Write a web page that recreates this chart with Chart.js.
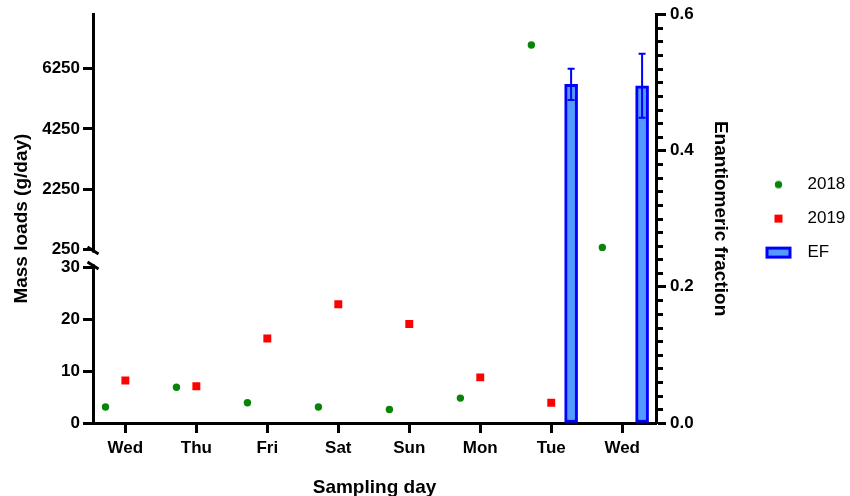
<!DOCTYPE html>
<html>
<head>
<meta charset="utf-8">
<script src="https://cdn.jsdelivr.net/npm/chart.js@4.4.0/dist/chart.umd.min.js"></script>
<style>
  body { margin: 0; background: #fff; }
</style>
</head>
<body>
<canvas id="chart" width="850" height="496"></canvas>
<script>
const days = ['Wed', 'Thu', 'Fri', 'Sat', 'Sun', 'Mon', 'Tue', 'Wed'];
const mass2018 = [3.1, 6.9, 3.9, 3.1, 2.6, 4.8, 7030, 320];
const mass2019 = [8.2, 7.1, 16.3, 22.9, 19.1, 8.8, 3.9, null];
const efValues = [null, null, null, null, null, null, 0.497, 0.495];
const efErrors = [null, null, null, null, null, null, 0.023, 0.047];
const lowTicks = [0, 10, 20, 30];
const highTicks = [250, 2250, 4250, 6250];
const efTicks = [0, 0.2, 0.4, 0.6];
const breakAt = 30;

const FONT = "'Liberation Sans', Arial, sans-serif";
const GREEN = '#088508';
const RED = '#ff0000';
const BLUE = '#0000ff';
const LIGHT_BLUE = '#559bff';

// value lists -> {x, y} points, shifted inside each day
function points(values, offset, keep, errs) {
    let out = [];
    values.forEach((v, i) => {
        if (v === null || !keep(v)) return;
        let p = {x: i + offset, y: v};
        if (errs) p.err = errs[i];
        out.push(p);
    });
    return out;
}

function swatch(kind) {
    let c = document.createElement('canvas');
    c.width = 34;
    c.height = 14;
    let ctx = c.getContext('2d');
    if (kind === 'dot') {
        ctx.fillStyle = GREEN;
        ctx.beginPath();
        ctx.arc(13.5, 7, 3.7, 0, Math.PI * 2);
        ctx.fill();
    } else if (kind === 'square') {
        ctx.fillStyle = RED;
        ctx.fillRect(9.5, 3, 8, 8);
    } else {
        ctx.fillStyle = BLUE;
        ctx.fillRect(0.5, 1, 26, 12);
        ctx.fillStyle = LIGHT_BLUE;
        ctx.fillRect(3.5, 4, 20, 6);
    }
    return c;
}

const tickFont = {family: FONT, size: 17, weight: 'bold'};
const titleFont = {family: FONT, size: 19, weight: 'bold'};
const axisGrid = {drawOnChartArea: false, offset: false, tickLength: 10, tickWidth: 3, tickColor: '#000'};
const axisBorder = {color: '#000', width: 3};

const extras = {
    id: 'extras',
    afterInit(chart) {
        // legend box wide enough so its text is not clipped
        let legend = chart.legend;
        let fit = legend.fit.bind(legend);
        legend.fit = function () { fit(); this.width = 102; };
    },
    afterDatasetsDraw(chart) {
        // error bars on EF
        let ctx = chart.ctx;
        let s = chart.scales.y2;
        let ds = chart.data.datasets[3];
        chart.getDatasetMeta(3).data.forEach((bar, j) => {
            let p = ds.data[j];
            let top = s.getPixelForValue(p.y + p.err);
            let bot = s.getPixelForValue(p.y - p.err);
            ctx.save();
            ctx.strokeStyle = BLUE;
            ctx.lineWidth = 2;
            ctx.beginPath();
            ctx.moveTo(bar.x, top);
            ctx.lineTo(bar.x, bot);
            ctx.moveTo(bar.x - 3.5, top);
            ctx.lineTo(bar.x + 3.5, top);
            ctx.moveTo(bar.x - 3.5, bot);
            ctx.lineTo(bar.x + 3.5, bot);
            ctx.stroke();
            ctx.restore();
        });
    },
    afterDraw(chart) {
        let ctx = chart.ctx;
        // minor ticks on the right axis
        let s = chart.scales.y2;
        ctx.save();
        ctx.strokeStyle = '#000';
        ctx.lineWidth = 3;
        for (let k = 1; k < 30; k++) {
            if (k % 10 === 0) continue;
            let y = Math.round(s.getPixelForValue(k * 0.02)) + 0.5;
            ctx.beginPath();
            ctx.moveTo(s.left, y);
            ctx.lineTo(s.left + 7, y);
            ctx.stroke();
        }
        // axis break marks
        let hi = chart.scales.yHigh;
        let lo = chart.scales.yLow;
        let x = hi.right;
        let y1 = hi.getPixelForValue(highTicks[0]);
        let y2 = lo.getPixelForValue(lowTicks[lowTicks.length - 1]);
        ctx.fillStyle = '#fff';
        ctx.fillRect(x - 4, y1 + 3, 8, y2 - y1 - 6);
        ctx.lineWidth = 3;
        [y1 + 1, y2 - 2].forEach(yy => {
            ctx.beginPath();
            ctx.moveTo(x - 5.5, yy - 3.5);
            ctx.lineTo(x + 5.5, yy + 3.5);
            ctx.stroke();
        });
        ctx.restore();
    }
};

new Chart(document.getElementById('chart'), {
    type: 'bar',
    data: {
        datasets: [{
            type: 'scatter',
            label: '2018',
            yAxisID: 'yLow',
            data: points(mass2018, -0.28, v => v <= breakAt),
            pointStyle: 'circle',
            pointRadius: 3.7,
            pointBorderWidth: 0,
            backgroundColor: GREEN,
        }, {
            type: 'scatter',
            label: '2018',
            yAxisID: 'yHigh',
            data: points(mass2018, -0.28, v => v > breakAt),
            pointStyle: 'circle',
            pointRadius: 3.7,
            pointBorderWidth: 0,
            backgroundColor: GREEN,
        }, {
            type: 'scatter',
            label: '2019',
            yAxisID: 'yLow',
            data: points(mass2019, 0, v => v <= breakAt),
            pointStyle: 'rect',
            pointRadius: 5.6,
            pointBorderWidth: 0,
            backgroundColor: RED,
        }, {
            type: 'bar',
            label: 'EF',
            yAxisID: 'y2',
            data: points(efValues, 0.28, () => true, efErrors),
            barThickness: 13,
            backgroundColor: LIGHT_BLUE,
            borderColor: BLUE,
            borderWidth: 3,
            borderSkipped: false,
        }]
    },
    options: {
        responsive: false,
        devicePixelRatio: 1,
        animation: false,
        layout: {padding: {left: 0, top: 13, right: 0, bottom: 0}},
        plugins: {
            tooltip: {enabled: false},
            legend: {
                position: 'right',
                fullSize: false,
                onClick: () => {},
                labels: {
                    usePointStyle: true,
                    pointStyleWidth: 34,
                    padding: 17,
                    color: '#000',
                    font: {family: FONT, size: 17},
                    generateLabels: () => [
                        {text: '2018', pointStyle: swatch('dot'), lineWidth: 0, datasetIndex: 0},
                        {text: '2019', pointStyle: swatch('square'), lineWidth: 0, datasetIndex: 2},
                        {text: 'EF', pointStyle: swatch('bar'), lineWidth: 0, datasetIndex: 3},
                    ]
                }
            }
        },
        scales: {
            x: {
                type: 'linear',
                offset: false,
                min: -0.456,
                max: 7.476,
                afterBuildTicks: s => { s.ticks = days.map((d, i) => ({value: i})); },
                afterFit: s => { s.height = 73; },
                ticks: {callback: v => days[v], font: tickFont, color: '#000', padding: 5, autoSkip: false, maxRotation: 0},
                grid: axisGrid,
                border: axisBorder,
                title: {display: true, text: 'Sampling day', font: titleFont, color: '#000', padding: {top: 4, bottom: -3}}
            },
            yTitle: {
                type: 'linear',
                position: 'left',
                weight: 10,
                afterFit: s => { s.width = 32; },
                ticks: {display: false},
                grid: {display: false, drawTicks: false},
                border: {display: false},
                title: {display: true, text: 'Mass loads (g/day)', font: titleFont, color: '#000', padding: {top: 10, bottom: 0}}
            },
            yHigh: {
                type: 'linear',
                position: 'left',
                stack: 'mass',
                stackWeight: 245,
                weight: 2,
                min: -47.5,
                max: 8052,
                afterBuildTicks: s => { s.ticks = highTicks.map(v => ({value: v})); },
                afterFit: s => { s.width = 61; },
                ticks: {callback: v => String(v), font: tickFont, color: '#000', padding: 3},
                grid: axisGrid,
                border: axisBorder
            },
            yLow: {
                type: 'linear',
                position: 'left',
                stack: 'mass',
                stackWeight: 165,
                weight: 1,
                min: 0,
                max: 31.73,
                afterBuildTicks: s => { s.ticks = lowTicks.map(v => ({value: v})); },
                afterFit: s => { s.width = 61; },
                ticks: {callback: v => String(v), font: tickFont, color: '#000', padding: 3},
                grid: axisGrid,
                border: axisBorder
            },
            y2: {
                type: 'linear',
                position: 'right',
                min: 0,
                max: 0.6,
                afterBuildTicks: s => { s.ticks = efTicks.map(v => ({value: v})); },
                afterFit: s => { s.width = 92; },
                ticks: {callback: v => v.toFixed(1), font: tickFont, color: '#000', padding: 4},
                grid: axisGrid,
                border: axisBorder,
                title: {display: true, text: 'Enantiomeric fraction', font: titleFont, color: '#000', padding: {top: 16.5, bottom: 0}}
            }
        }
    },
    plugins: [extras]
});
</script>
</body>
</html>
